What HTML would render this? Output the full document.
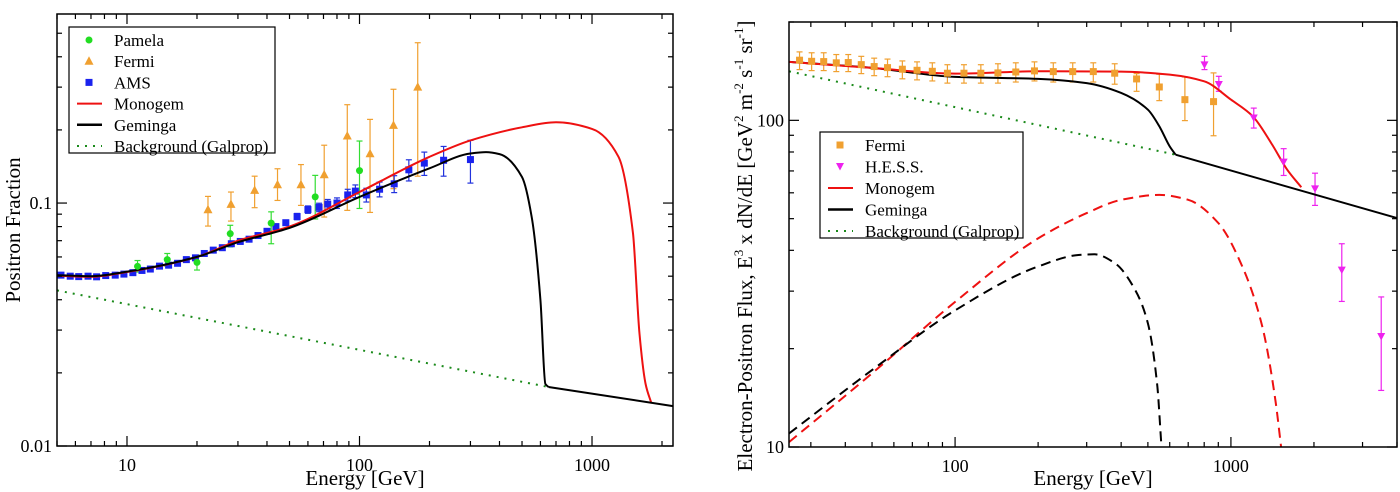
<!DOCTYPE html>
<html><head><meta charset="utf-8"><style>
html,body{margin:0;padding:0;background:#fff;}
svg{display:block;font-family:"Liberation Serif",serif;}
</style></head><body>
<svg id="chart" width="1400" height="492" viewBox="0 0 1400 492">
<g id="left"></g>
<g id="right"></g>
</svg>
<script>
// ---------- LEFT PANEL DATA ----------
const L_pamelaE = [11.1, 14.9, 20, 27.8, 41.7, 64.5, 100];
const L_pamelaF = [0.0549, 0.0585, 0.057, 0.0748, 0.0827, 0.106, 0.136];
const L_pamelaLo = [0.052, 0.055, 0.053, 0.066, 0.068, 0.086, 0.095];
const L_pamelaHi = [0.058, 0.062, 0.061, 0.081, 0.092, 0.130, 0.180];
const L_fermiE = [22.3, 28, 35.4, 44.4, 56, 70.5, 88.6, 111, 140, 178];
const L_fermiF = [0.0939, 0.0987, 0.1127, 0.119, 0.119, 0.1308, 0.1887, 0.1596, 0.2087, 0.300];
const L_fermiLo = [0.0804, 0.0843, 0.0957, 0.1025, 0.0978, 0.0876, 0.0933, 0.0915, 0.1146, 0.129];
const L_fermiHi = [0.1065, 0.111, 0.129, 0.1384, 0.144, 0.173, 0.254, 0.221, 0.294, 0.457];
const L_amsE = [5.2,5.7,6.2,6.8,7.4,8.1,8.9,9.7,10.6,11.6,12.6,13.8,15.1,16.5,18,19.7,21.5,23.5,25.7,28.1,30.7,33.5,36.6,40,43.7,48.2,53.9,60,67,73,80,89,96,107,122,141,163,190,230,300];
const L_amsF = [0.0505,0.050,0.0498,0.050,0.0497,0.0503,0.0505,0.051,0.0517,0.0528,0.0535,0.055,0.0555,0.0565,0.0585,0.0595,0.062,0.064,0.0655,0.068,0.0695,0.071,0.0735,0.0765,0.080,0.083,0.088,0.094,0.096,0.099,0.100,0.108,0.112,0.108,0.114,0.120,0.137,0.146,0.150,0.151];
const L_amsErr = [0.01,0.01,0.01,0.01,0.01,0.01,0.01,0.01,0.012,0.012,0.012,0.012,0.012,0.014,0.014,0.014,0.015,0.015,0.016,0.016,0.017,0.018,0.02,0.02,0.022,0.025,0.03,0.035,0.04,0.045,0.05,0.055,0.06,0.065,0.07,0.08,0.1,0.11,0.14,0.2];
const L_monoE = [5,7,10,20,30,50,100,200,300,500,700,1000,1300,1500,1600,1700,1800];
const L_monoF = [0.0503,0.0497,0.052,0.060,0.070,0.080,0.111,0.155,0.181,0.205,0.215,0.202,0.155,0.075,0.029,0.018,0.0150];
const L_gemE = [5,7,10,20,30,50,100,200,300,350,400,500,550,600,630,650];
const L_gemF = [0.0505,0.0500,0.0522,0.060,0.069,0.079,0.106,0.139,0.160,0.162,0.159,0.128,0.088,0.040,0.018,0.0175];
const L_tailE = [650,2230];
const L_tailF = [0.0175,0.0146];
const L_bgE = [5,650];
const L_bgF = [0.0437,0.0175];
const L_xTicks = [10,100,1000];
const L_xTickLabels = ["10","100","1000"];
const L_yTicks = [0.01,0.1];
const L_yTickLabels = ["0.01","0.1"];

// ---------- RIGHT PANEL DATA ----------
const R_fermiE = [27.3,30.2,33.4,37.1,41.0,45.7,50.9,56.9,64.4,72.8,82.7,93.8,107.7,124,143,166,194,227,267,317,379,455,550,681,865];
const R_fermiF = [152.8,151.6,151.3,150,150.3,148.1,146.1,145,143.4,142.3,141.3,139.4,139.4,139.4,139.7,140.6,141.7,141,141,141,139.4,133.9,126.5,115.7,114.1];
const R_fermiLo = [143,142,142,141,141,139,137,136,134,133,132,130,130,130,130,131,132,131,131,131,129,122.7,114.9,99.8,89.7];
const R_fermiHi = [162,161,161,159,159,157,155,154,152,151,150,148,148,148,149,150,151,150,150,150,149,139,138.4,135.8,139.7];
const R_hessE = [802,904,1210,1553,2018,2523,3506];
const R_hessF = [147.8,128.7,101.7,74.5,61.7,34.8,21.8];
const R_hessLo = [143,122.7,94.7,67.8,54.9,27.9,14.9];
const R_hessHi = [157,136.4,109,81.9,68.9,41.9,28.8];
const R_monoE = [25,50,100,200,400,600,800,1000,1200,1400,1600,1800];
const R_monoF = [151,144.7,139,141.3,141,138,131.7,115.7,102.9,85.2,70.6,62.4];
const R_gemE = [25,50,100,200,300,400,500,550,600,630];
const R_gemF = [151,144.7,135.8,133.9,130,121.3,107.8,95.9,83.2,78.5];
const R_tailE = [630,4000];
const R_tailF = [78.5,50.2];
const R_bgE = [25,630];
const R_bgF = [141.3,78.5];
const R_monoDashE = [25,50,100,200,300,400,550,700,900,1100,1300,1450,1520];
const R_monoDashF = [10.35,16.8,27.8,43.5,52,57.1,59.1,57.1,48.5,35.7,23.3,13.9,10];
const R_gemDashE = [25,50,100,200,280,320,380,450,500,540,560];
const R_gemDashF = [11.0,17.2,26.2,35.7,38.7,38.9,36.5,30.2,23.9,15.6,10];
const R_xTicks = [100,1000];
const R_xTickLabels = ["100","1000"];
const R_yTicks = [10,100];
const R_yTickLabels = ["10","100"];

const NS = "http://www.w3.org/2000/svg";
function mk(parent, tag, attrs, name, inter){
  const e = document.createElementNS(NS, tag);
  for (const k in attrs) e.setAttribute(k, attrs[k]);
  
  
  parent.appendChild(e);
  return e;
}
function axis(x0,x1,xmin,xmax,y0,y1,ymin,ymax){
  return {
    X: v => x0 + (x1-x0)*Math.log(v/xmin)/Math.log(xmax/xmin),
    Y: v => y1 - (y1-y0)*Math.log(v/ymin)/Math.log(ymax/ymin),
    x0,x1,y0,y1,xmin,xmax,ymin,ymax
  };
}
function frame(g, a, xt, xtl, yt, ytl){
  mk(g,'rect',{x:a.x0,y:a.y0,width:a.x1-a.x0,height:a.y1-a.y0,fill:'none',stroke:'#000','stroke-width':1.5},'plot-frame',false);
  for (let d=Math.pow(10,Math.floor(Math.log10(a.xmin))); d<a.xmax; d*=10){
    for (let m=1;m<10;m++){
      const v=d*m; if (v<a.xmin||v>a.xmax) continue;
      const len = m===1?10:5; const x=a.X(v);
      mk(g,'line',{x1:x,x2:x,y1:a.y1,y2:a.y1-len,stroke:'#000','stroke-width':1.2},'x-tick',false);
      mk(g,'line',{x1:x,x2:x,y1:a.y0,y2:a.y0+len,stroke:'#000','stroke-width':1.2},'x-tick-top',false);
    }
  }
  for (let d=Math.pow(10,Math.floor(Math.log10(a.ymin)+1e-9)); d<a.ymax; d*=10){
    for (let m=1;m<10;m++){
      const v=d*m; if (v<a.ymin*0.999||v>a.ymax) continue;
      const len = m===1?10:5; const y=a.Y(v);
      mk(g,'line',{x1:a.x0,x2:a.x0+len,y1:y,y2:y,stroke:'#000','stroke-width':1.2},'y-tick',false);
      mk(g,'line',{x1:a.x1,x2:a.x1-len,y1:y,y2:y,stroke:'#000','stroke-width':1.2},'y-tick-right',false);
    }
  }
  xt.forEach((v,i)=>{
    const t=mk(g,'text',{x:a.X(v),y:a.y1+25,'text-anchor':'middle','font-size':18},'x-tick-label',false);
    t.textContent=xtl[i];
  });
  yt.forEach((v,i)=>{
    const t=mk(g,'text',{x:a.x0-5,y:a.Y(v)+6,'text-anchor':'end','font-size':18},'y-tick-label',false);
    t.textContent=ytl[i];
  });
}
function smoothPath(xs, ys){
  const n=xs.length;
  if (n<3) return 'M'+xs.map((x,i)=>x.toFixed(1)+','+ys[i].toFixed(1)).join(' L');
  const d=[], m=new Array(n);
  for (let i=0;i<n-1;i++) d.push((ys[i+1]-ys[i])/(xs[i+1]-xs[i]));
  m[0]=d[0]; m[n-1]=d[n-2];
  for (let i=1;i<n-1;i++){
    if (d[i-1]*d[i]<=0) m[i]=0;
    else { const w1=2*(xs[i+1]-xs[i])+(xs[i]-xs[i-1]), w2=(xs[i+1]-xs[i])+2*(xs[i]-xs[i-1]);
      m[i]=(w1+w2)/(w1/d[i-1]+w2/d[i]); }
  }
  let p='M'+xs[0].toFixed(1)+','+ys[0].toFixed(1);
  for (let i=0;i<n-1;i++){
    const h=xs[i+1]-xs[i];
    p+=' C'+(xs[i]+h/3).toFixed(1)+','+(ys[i]+m[i]*h/3).toFixed(1)+' '+(xs[i+1]-h/3).toFixed(1)+','+(ys[i+1]-m[i+1]*h/3).toFixed(1)+' '+xs[i+1].toFixed(1)+','+ys[i+1].toFixed(1);
  }
  return p;
}
function line(g,a,E,F,color,w,dash,name){
  const at={d:smoothPath(E.map(a.X),F.map(a.Y)),fill:'none',stroke:color,'stroke-width':w,'stroke-linejoin':'round'};
  if (dash) at['stroke-dasharray']=dash;
  mk(g,'path',at,name,false);
}
function errs(g,a,E,lo,hi,color,name){
  E.forEach((e,i)=>{
    const x=a.X(e), yl=a.Y(lo[i]), yh=a.Y(hi[i]);
    mk(g,'line',{x1:x,x2:x,y1:yl,y2:yh,stroke:color,'stroke-width':1.2},name,false);
    mk(g,'line',{x1:x-3,x2:x+3,y1:yl,y2:yl,stroke:color,'stroke-width':1.2},name+'-cap',false);
    mk(g,'line',{x1:x-3,x2:x+3,y1:yh,y2:yh,stroke:color,'stroke-width':1.2},name+'-cap',false);
  });
}
function marker(g,type,x,y,color,name){
  if (type==='circle') mk(g,'circle',{cx:x,cy:y,r:3.5,fill:color},name,false);
  else if (type==='square') mk(g,'rect',{x:x-3.5,y:y-3.5,width:7,height:7,fill:color},name,false);
  else if (type==='tri') mk(g,'polygon',{points:`${x},${y-5} ${x-4.5},${y+3.5} ${x+4.5},${y+3.5}`,fill:color},name,false);
  else if (type==='tridown') mk(g,'polygon',{points:`${x},${y+4} ${x-4},${y-3.5} ${x+4},${y-3.5}`,fill:color},name,false);
}
function legend(g,x,y,w,h,items){
  mk(g,'rect',{x:x,y:y,width:w,height:h,fill:'#fff',stroke:'#000','stroke-width':1.2},'legend-box',false);
  items.forEach((it,i)=>{
    const cy=y+13+i*(h-20)/(items.length-1);
    const ent=mk(g,'g',{},'legend-entry',false);
    if (it.type==='line') {
      const at={x1:x+8,x2:x+33,y1:cy,y2:cy,stroke:it.color,'stroke-width':it.w||2};
      if (it.dash) at['stroke-dasharray']=it.dash;
      mk(ent,'line',at,'legend-swatch',false);
    } else marker(ent,it.type,x+20,cy,it.color,'legend-marker');
    const t=mk(ent,'text',{x:x+45,y:cy+6,'font-size':17},'legend-label',false);
    t.textContent=it.label;
  });
}

// ---- LEFT ----
const gl=document.getElementById('left');
const A=axis(57,673,5,2230,14,446,0.01,0.6);
line(gl,A,L_bgE,L_bgF,'#1a8a1a',2,'2,6','background-galprop-line');
errs(gl,A,L_fermiE,L_fermiLo,L_fermiHi,'#f0a030','fermi-error-bar');
errs(gl,A,L_pamelaE,L_pamelaLo,L_pamelaHi,'#33dd33','pamela-error-bar');
errs(gl,A,L_amsE,L_amsF.map((f,i)=>f*(1-L_amsErr[i])),L_amsF.map((f,i)=>f*(1+L_amsErr[i])),'#2233dd','ams-error-bar');
L_amsE.forEach((e,i)=>marker(gl,'square',A.X(e),A.Y(L_amsF[i]),'#1a22ee','ams-point'));
line(gl,A,L_monoE,L_monoF,'#ee1111',2,null,'monogem-line');
line(gl,A,L_tailE,L_tailF,'#000',2,null,'combined-tail-line');
line(gl,A,L_gemE,L_gemF,'#000',2,null,'geminga-line');
L_pamelaE.forEach((e,i)=>marker(gl,'circle',A.X(e),A.Y(L_pamelaF[i]),'#22dd22','pamela-point'));
L_fermiE.forEach((e,i)=>marker(gl,'tri',A.X(e),A.Y(L_fermiF[i]),'#f0a030','fermi-point'));
frame(gl,A,L_xTicks,L_xTickLabels,L_yTicks,L_yTickLabels);
legend(gl,69,27,206,126,[
  {type:'circle',color:'#22dd22',label:'Pamela'},
  {type:'tri',color:'#f0a030',label:'Fermi'},
  {type:'square',color:'#1a22ee',label:'AMS'},
  {type:'line',color:'#ee1111',label:'Monogem'},
  {type:'line',color:'#000',label:'Geminga',w:2.5},
  {type:'line',color:'#1a8a1a',label:'Background (Galprop)',dash:'2,6'}
]);
let t=mk(gl,'text',{x:365,y:485,'text-anchor':'middle','font-size':21},'x-axis-title',false); t.textContent='Energy [GeV]';
t=mk(gl,'text',{x:0,y:0,'text-anchor':'middle','font-size':21,transform:'translate(20,230) rotate(-90)'},'y-axis-title',false); t.textContent='Positron Fraction';

// ---- RIGHT ----
const gr=document.getElementById('right');
const B=axis(789,1397,25,4000,22,447,10,200);
line(gr,B,R_bgE,R_bgF,'#1a8a1a',2,'2,6','background-galprop-line');
line(gr,B,R_monoDashE,R_monoDashF,'#ee1111',2,'10,6','monogem-contribution-dashed');
line(gr,B,R_gemDashE,R_gemDashF,'#000',2,'10,6','geminga-contribution-dashed');
errs(gr,B,R_fermiE,R_fermiLo,R_fermiHi,'#f0a030','fermi-error-bar');
errs(gr,B,R_hessE,R_hessLo,R_hessHi,'#ee22ee','hess-error-bar');
line(gr,B,R_tailE,R_tailF,'#000',2,null,'combined-tail-line');
line(gr,B,R_gemE,R_gemF,'#000',2,null,'geminga-line');
line(gr,B,R_monoE,R_monoF,'#ee1111',2,null,'monogem-line');
R_fermiE.forEach((e,i)=>marker(gr,'square',B.X(e),B.Y(R_fermiF[i]),'#f0a030','fermi-point'));
R_hessE.forEach((e,i)=>marker(gr,'tridown',B.X(e),B.Y(R_hessF[i]),'#ee22ee','hess-point'));
frame(gr,B,R_xTicks,R_xTickLabels,R_yTicks,R_yTickLabels);
legend(gr,820,132,203,106,[
  {type:'square',color:'#f0a030',label:'Fermi'},
  {type:'tridown',color:'#ee22ee',label:'H.E.S.S.'},
  {type:'line',color:'#ee1111',label:'Monogem'},
  {type:'line',color:'#000',label:'Geminga',w:2.5},
  {type:'line',color:'#1a8a1a',label:'Background (Galprop)',dash:'2,6'}
]);
t=mk(gr,'text',{x:1093,y:485,'text-anchor':'middle','font-size':21},'x-axis-title',false); t.textContent='Energy [GeV]';
t=mk(gr,'text',{x:0,y:0,'text-anchor':'middle','font-size':21,transform:'translate(752,246) rotate(-90)'},'y-axis-title',false);
t.innerHTML='Electron-Positron Flux, E<tspan font-size="13" dy="-9">3</tspan><tspan dy="9"> x dN/dE [GeV</tspan><tspan font-size="13" dy="-9">2</tspan><tspan dy="9"> m</tspan><tspan font-size="13" dy="-9">-2</tspan><tspan dy="9"> s</tspan><tspan font-size="13" dy="-9">-1</tspan><tspan dy="9"> sr</tspan><tspan font-size="13" dy="-9">-1</tspan><tspan dy="9">]</tspan>';
</script>
</body></html>
